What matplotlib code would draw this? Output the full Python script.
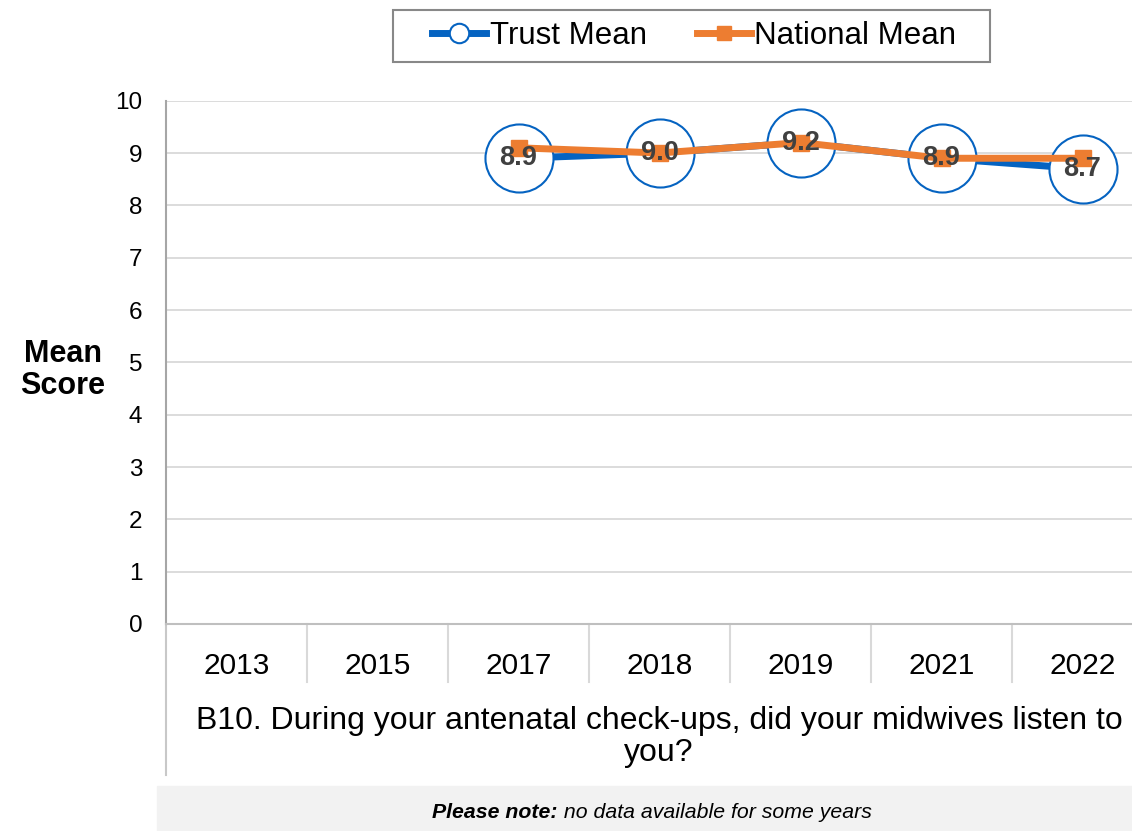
import matplotlib.pyplot as plt
from matplotlib.lines import Line2D
from matplotlib.patches import Rectangle
import numpy as np

plt.rcParams['font.family'] = ['Liberation Sans', 'DejaVu Sans']

years = ['2013', '2015', '2017', '2018', '2019', '2021', '2022']
trust_mean = [np.nan, np.nan, 8.9, 9.0, 9.2, 8.9, 8.7]
national_mean = [np.nan, np.nan, 9.1, 9.0, 9.2, 8.9, 8.9]
question = 'B10. During your antenatal check-ups, did your midwives listen to\nyou?'

blue = '#0563C1'
orange = '#ED7D31'

fig = plt.figure(figsize=(11.32, 8.31), dpi=100)
W, H = 1132, 831
# axes in pixel terms: left 166, top 100.7, zero line 624, category width 141
ax = fig.add_axes([166 / W, (H - 624) / H, 7 * 141 / W, 523.3 / H])

x = np.arange(len(years))
ax.plot(x, trust_mean, color=blue, lw=5, marker='o', ms=49, mfc='white',
        mec=blue, mew=1.5, zorder=3, clip_on=False)
ax.plot(x, national_mean, color=orange, lw=5, marker='s', ms=11,
        zorder=4, clip_on=False)
for xi, v in zip(x, trust_mean):
    if not np.isnan(v):
        ax.text(xi, v, f'{v:.1f}', ha='center', va='center', fontsize=19.5,
                fontweight='bold', color='#404040', zorder=5)

ax.set_xlim(-0.5, len(years) - 0.5)
ax.set_ylim(0, 10)
ax.set_yticks(range(0, 11))
ax.tick_params(axis='y', length=0, pad=17, labelsize=17.5)
ax.set_xticks(x)
ax.set_xticklabels(years)
ax.tick_params(axis='x', length=0, pad=20, labelsize=21.5)
for lab in ax.get_xticklabels():
    lab.set_verticalalignment('top')

ax.grid(axis='y', color='#D9D9D9', lw=1.3)
ax.set_axisbelow(True)
for s in ['top', 'right']:
    ax.spines[s].set_visible(False)
ax.spines['left'].set_color('#A6A6A6')
ax.spines['left'].set_linewidth(1.5)
ax.spines['bottom'].set_color('#BFBFBF')
ax.spines['bottom'].set_linewidth(1.5)

# category dividers and extended left axis line
trans = ax.get_xaxis_transform()
for i in range(len(years) - 1):
    ax.plot([i + 0.5, i + 0.5], [0, -58 / 523.3], transform=trans,
            color='#D9D9D9', lw=1.5, clip_on=False)
ax.plot([-0.5, -0.5], [0, -151 / 523.3], transform=trans,
        color='#C8C8C8', lw=1.5, clip_on=False)

fig.text(659 / W, (H - 737) / H, question, ha='center', va='center',
         fontsize=23, linespacing=1.12)
fig.text(63 / W, (H - 370) / H, 'Mean\nScore', ha='center', va='center',
         fontsize=22, fontweight='bold', linespacing=1.05)

# note box
fig.patches.append(Rectangle((157 / W, 0), 1 - 157 / W, 45 / H,
                             transform=fig.transFigure, color='#F2F2F2',
                             zorder=0))
t1 = fig.text(0, (H - 812) / H, 'Please note:', ha='left', va='center',
              fontsize=15.3, fontweight='bold', fontstyle='italic')
t2 = fig.text(0, (H - 812) / H, ' no data available for some years',
              ha='left', va='center', fontsize=15.3, fontstyle='italic')
fig.canvas.draw()
r = fig.canvas.get_renderer()
w1 = t1.get_window_extent(r).width
w2 = t2.get_window_extent(r).width
start = 652 - (w1 + w2) / 2
t1.set_x(start / W)
t2.set_x((start + w1) / W)

# legend box
fig.patches.append(Rectangle((393 / W, (H - 62) / H), 597 / W, 52 / H,
                             transform=fig.transFigure, facecolor='white',
                             edgecolor='#888888', lw=1.5, zorder=1))
handles = [
    Line2D([], [], color=blue, lw=5, marker='o', ms=14, mfc='white',
           mec=blue, mew=1.5),
    Line2D([], [], color=orange, lw=5, marker='s', ms=10),
]
leg = fig.legend(handles, ['Trust Mean', 'National Mean'], loc='center',
                 bbox_to_anchor=(694 / W, (H - 36) / H), ncol=2,
                 fontsize=22.5, frameon=False,
                 handlelength=1.75, handletextpad=0.1, columnspacing=1.6,
                 borderpad=0.35)

fig.savefig('out.png', dpi=100)
